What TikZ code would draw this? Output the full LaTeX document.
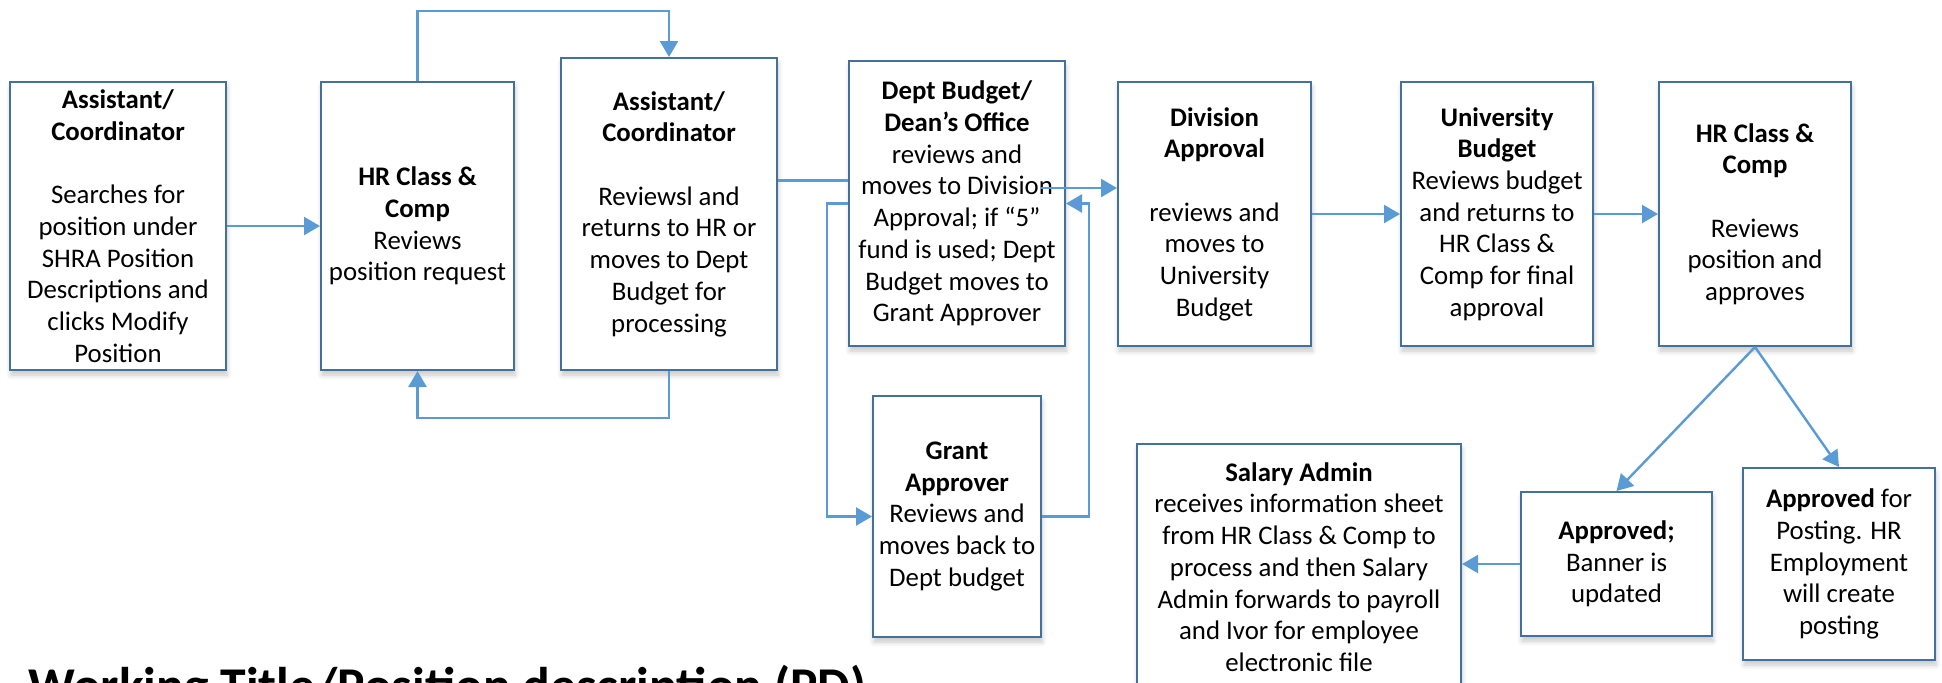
\documentclass[tikz,border=0pt]{standalone}
\usepackage{fontspec}
\setmainfont{Carlito}
\usetikzlibrary{arrows.meta,shadows.blur}
\definecolor{boxblue}{HTML}{41719C}
\definecolor{linkblue}{HTML}{5B9BD5}
\tikzset{
  box/.style={draw=boxblue, line width=1pt, fill=white, align=center,
    font=\fontsize{13.4}{15.85}\selectfont, inner sep=0pt,
    blur shadow={shadow xshift=0.5pt, shadow yshift=-2.5pt, shadow blur radius=2.5pt, shadow opacity=22, shadow blur steps=8}},
  link/.style={draw=linkblue, line width=1.2pt},
  arr/.style={link, -{Triangle[length=8pt,width=9pt]}},
}
\begin{document}
\begin{tikzpicture}[x=0.5pt,y=-0.5pt]
\useasboundingbox (0,0) rectangle (1942,682);
\node[box, minimum width=108pt, minimum height=144pt] (b1) at (118,226)
  {\textbf{Assistant/}\\\textbf{Coordinator}\\[15.85pt]Searches for\\position under\\SHRA Position\\Descriptions and\\clicks Modify\\Position};
\node[box, minimum width=96.5pt, minimum height=144pt] (b2) at (417.5,226)
  {\textbf{HR Class \&}\\\textbf{Comp}\\Reviews\\position request};
\node[box, minimum width=108pt, minimum height=156pt] (b3) at (669,214)
  {\textbf{Assistant/}\\\textbf{Coordinator}\\[15.85pt]Reviewsl and\\returns to HR or\\moves to Dept\\Budget for\\processing};
\node[box, minimum width=108pt, minimum height=142.5pt] (b4) at (957,203.5)
  {\textbf{Dept Budget/}\\\textbf{Dean’s Office}\\reviews and\\moves to Division\\Approval; if “5”\\fund is used; Dept\\Budget moves to\\Grant Approver};
\node[box, minimum width=96.5pt, minimum height=132pt] (div) at (1214.5,214)
  {\textbf{Division}\\\textbf{Approval}\\[15.85pt]reviews and\\moves to\\University\\Budget};
\node[box, minimum width=96pt, minimum height=132pt] (univ) at (1497,214)
  {\textbf{University}\\\textbf{Budget}\\Reviews budget\\and returns to\\HR Class \&\\Comp for final\\approval};
\node[box, minimum width=96pt, minimum height=132pt] (hr2) at (1755,214)
  {\textbf{HR Class \&}\\\textbf{Comp}\\[15.85pt]Reviews\\position and\\approves};
\node[box, minimum width=84pt, minimum height=120.5pt] (grant) at (957,516.5)
  {\textbf{Grant}\\\textbf{Approver}\\Reviews and\\moves back to\\Dept budget};
\node[box, minimum width=95.5pt, minimum height=72pt] (appr) at (1616.5,564)
  {\textbf{Approved;}\\Banner is\\updated};
\node[box, minimum width=96pt, minimum height=96pt] (post) at (1839,564)
  {\textbf{Approved} for\\Posting. HR\\Employment\\will create\\posting};
\node[box, minimum width=162pt, minimum height=123pt] (sal) at (1299,567)
  {\textbf{Salary Admin}\\receives information sheet\\from HR Class \& Comp to\\process and then Salary\\Admin forwards to payroll\\and Ivor for employee\\electronic file};
\node[anchor=base west, inner sep=0pt, font=\fontsize{25.8}{30}\selectfont\bfseries] (title) at (28,703)
  {Working Title/Position description (PD)};
% connectors
\draw[arr] (b1) -- (b2);
\coordinate (lt) at (669,11);
\draw[arr] (b2.north) |- (lt) -- (b3.north);
\coordinate (lb) at (669,418);
\draw[arr] (b3.south) -- (lb) -| (b2.south);
\draw[link] ([yshift=16.75pt]b3.east) coordinate (p1) -- (p1 -| b4.west);
\draw[arr] (b4.west) -- ++(-21,0) |- (grant.west);
\draw[arr] (grant.east) -- ++(47,0) |- (b4.east);
\draw[arr] ([xshift=-12.5pt,yshift=7.75pt]b4.east) coordinate (p2) -- (p2 -| div.west);
\draw[arr] (div) -- (univ);
\draw[arr] (univ) -- (hr2);
\draw[arr] (hr2.south) -- (appr.north);
\draw[arr] (hr2.south) -- (post.north);
\draw[arr] (appr.west) -- (appr.west -| sal.east);
\end{tikzpicture}
\end{document}
